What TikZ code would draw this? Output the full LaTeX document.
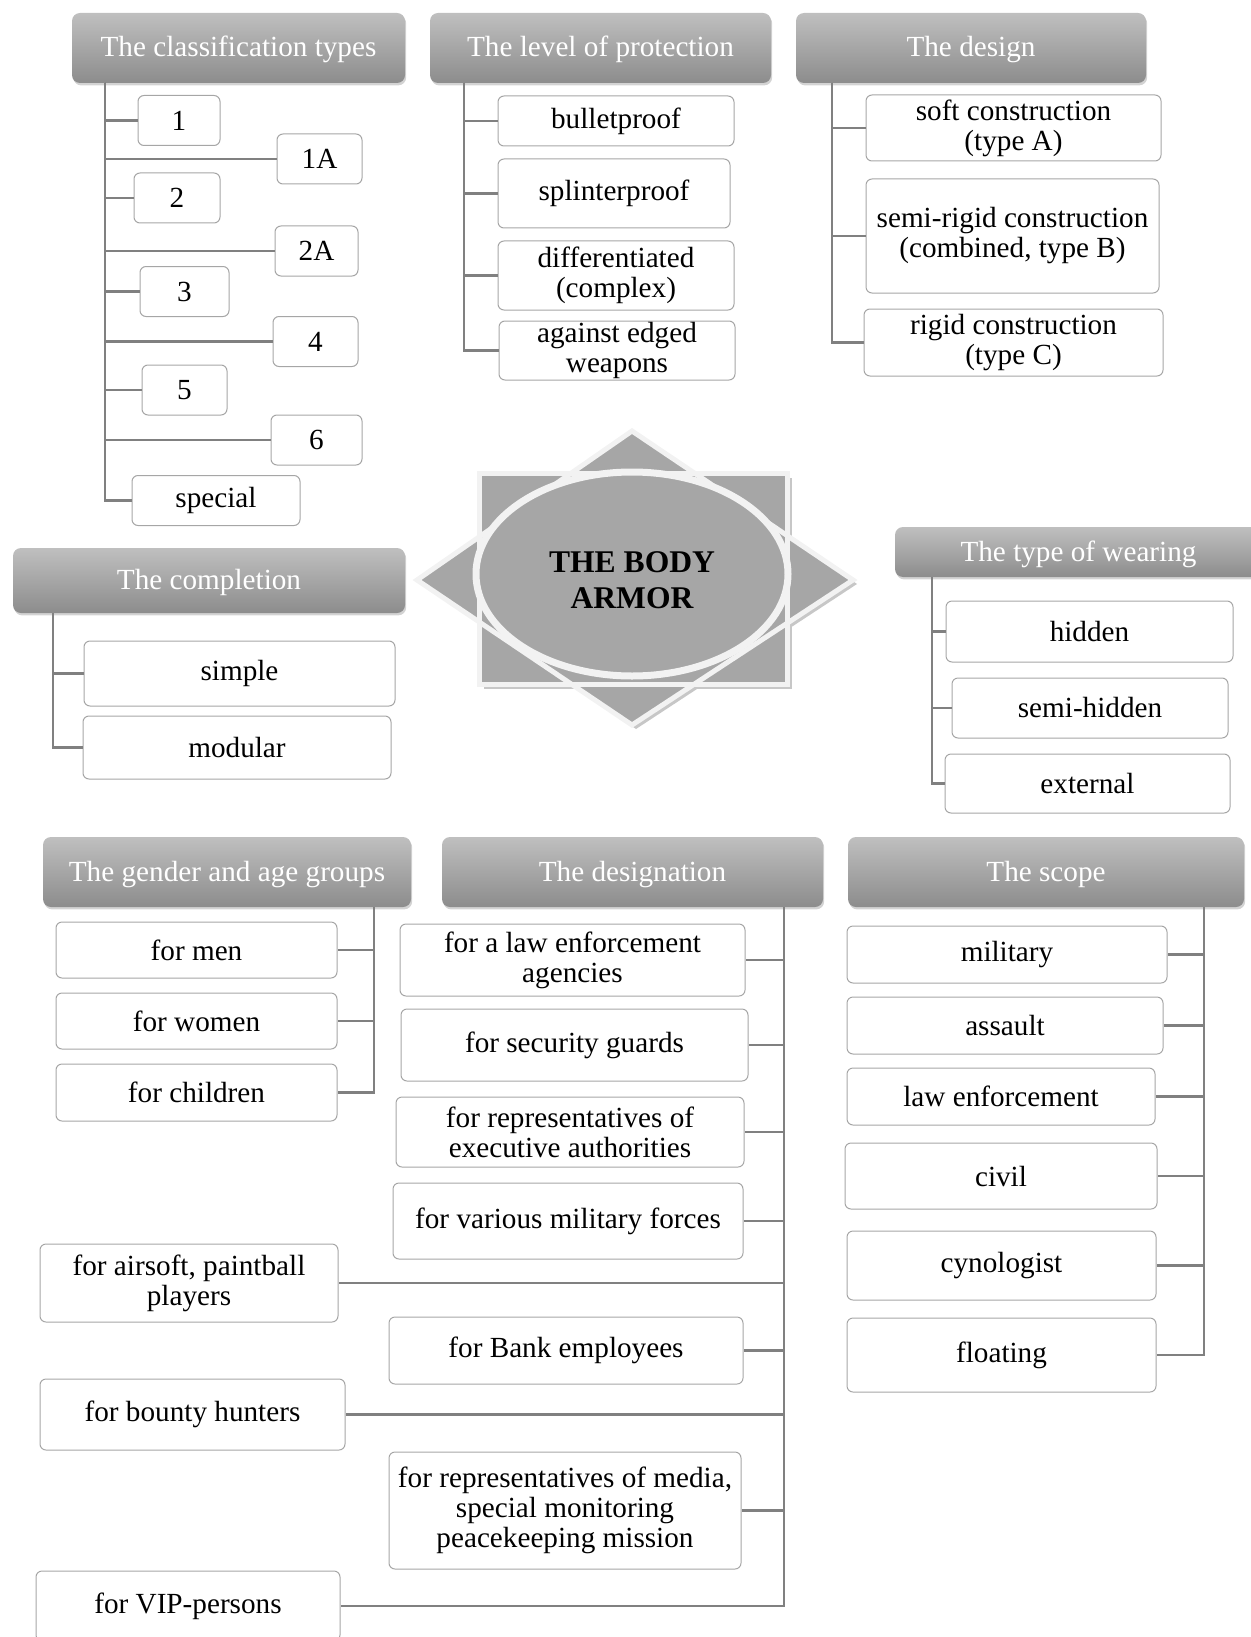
\documentclass[tikz,border=0pt]{standalone}
\usepackage{fontspec}
\setmainfont{Liberation Serif}
\usetikzlibrary{positioning,shapes.geometric,shadows}

\tikzset{
  hdr/.style={rounded corners=4pt, top color=black!25, bottom color=black!45,
    text=white, inner sep=0pt, font=\fontsize{14.6pt}{15pt}\selectfont,
    text height=10pt, text depth=1pt,
    drop shadow={opacity=0.35, shadow xshift=0.6pt, shadow yshift=-1.2pt}},
  leaf/.style={draw=black!35, line width=0.5pt, fill=white, rounded corners=3pt,
    align=center, inner sep=0pt, font=\fontsize{14.6pt}{15pt}\selectfont},
  sz/.style 2 args={minimum width=#1*0.5pt, minimum height=#2*0.5pt},
  link/.style={draw=black!50, line width=1.3pt},
  starpart/.style={fill=black!35},
  starline/.style={draw=black!5, line width=2.5pt},
  hub/.style={ellipse, fill=black!35, draw=black!5, line width=3.5pt,
    inner sep=0pt, font=\fontsize{15.8pt}{18pt}\selectfont\bfseries,
    drop shadow={opacity=0.3, shadow xshift=1pt, shadow yshift=-1pt}}
}

\begin{document}
\begin{tikzpicture}[x=0.5pt, y=-0.5pt]
  \useasboundingbox (0,0) rectangle (1250,1637);

  % star behind the hub
  \begin{scope}[shift={(4,4)}]
    \fill[black!22] (479.5,473.5) rectangle (787.5,684.5);
    \fill[black!22] (632,431) -- (853,580) -- (632,725) -- (417,580) -- cycle;
  \end{scope}
  \fill[starpart] (479.5,473.5) rectangle (787.5,684.5);
  \fill[starpart] (632,431) -- (853,580) -- (632,725) -- (417,580) -- cycle;
  \draw[starline] (479.5,473.5) rectangle (787.5,684.5);
  \draw[starline] (632,431) -- (853,580) -- (632,725) -- (417,580) -- cycle;

  \node[hub, sz={312}{204}] (hub) at (632,574)
    {\raisebox{-8pt}[0pt][0pt]{\begin{tabular}{@{}c@{}}THE BODY\\ARMOR\end{tabular}}};

  % headers
  \node[hdr, sz={333}{70}] (ct) at (238.5,48) {The classification types};
  \node[hdr, sz={341}{70}] (lp) at (600.5,48) {The level of protection};
  \node[hdr, sz={350}{70}] (ds) at (971,48) {The design};
  \node[hdr, sz={392}{65}] (cp) at (209,580.5) {The completion};
  \node[hdr, sz={367}{50}] (tw) at (1078.5,552) {The type of wearing};
  \node[hdr, sz={368}{70}] (ga) at (227,872) {The gender and age groups};
  \node[hdr, sz={381}{70}] (dg) at (632.5,872) {The designation};
  \node[hdr, sz={396}{70}] (sc) at (1046,872) {The scope};

  % trunk tops
  \coordinate (ct-t) at (105,83);
  \coordinate (lp-t) at (464,83);
  \coordinate (ds-t) at (832,83);
  \coordinate (cp-t) at (53,613);
  \coordinate (tw-t) at (932,577);
  \coordinate (ga-t) at (374,907);
  \coordinate (dg-t) at (784,907);
  \coordinate (sc-t) at (1204,907);

  % classification types
  \node[leaf, sz={82}{50}] (c1) at (179,120.5) {1};
  \node[leaf, sz={85}{50}] (c1a) at (319.5,159) {1A};
  \node[leaf, sz={86}{50}] (c2) at (177,198) {2};
  \node[leaf, sz={83}{50}] (c2a) at (316.5,251) {2A};
  \node[leaf, sz={89}{50}] (c3) at (184.5,291.5) {3};
  \node[leaf, sz={85}{50}] (c4) at (315.5,341.5) {4};
  \node[leaf, sz={85}{50}] (c5) at (184.5,390) {5};
  \node[leaf, sz={91}{50}] (c6) at (316.5,440) {6};
  \node[leaf, sz={168}{50}] (csp) at (216,500.5) {special};

  % level of protection
  \node[leaf, sz={236}{50}] (l1) at (616,121) {bulletproof};
  \node[leaf, sz={232}{69}] (l2) at (614,193.5) {splinterproof};
  \node[leaf, sz={236}{69}] (l3) at (616,275.5) {differentiated\\(complex)};
  \node[leaf, sz={236}{59}] (l4) at (617,350.5) {against edged\\weapons};

  % design
  \node[leaf, sz={295}{66}] (d1) at (1013.5,128) {soft construction\\(type A)};
  \node[leaf, sz={293}{114}] (d2) at (1012.5,236) {semi-rigid construction\\(combined, type B)};
  \node[leaf, sz={299}{67}] (d3) at (1013.5,342.5) {rigid construction\\(type C)};

  % completion
  \node[leaf, sz={311}{65}] (m1) at (239.5,673.5) {simple};
  \node[leaf, sz={308}{63}] (m2) at (237,747.5) {modular};

  % type of wearing
  \node[leaf, sz={287}{61}] (w1) at (1089.5,631.5) {hidden};
  \node[leaf, sz={276}{60}] (w2) at (1090,708) {semi-hidden};
  \node[leaf, sz={285}{59}] (w3) at (1087.5,783.5) {external};

  % gender and age groups
  \node[leaf, sz={281}{56}] (g1) at (196.5,950) {for men};
  \node[leaf, sz={281}{56}] (g2) at (196.5,1021) {for women};
  \node[leaf, sz={281}{57}] (g3) at (196.5,1092.5) {for children};

  % designation
  \node[leaf, sz={345}{72}] (n1) at (572.5,960) {for a law enforcement\\agencies};
  \node[leaf, sz={347}{72}] (n2) at (574.5,1045) {for security guards};
  \node[leaf, sz={348}{70}] (n3) at (570,1132) {for representatives of\\executive authorities};
  \node[leaf, sz={350}{76}] (n4) at (568,1221) {for various military forces};
  \node[leaf, sz={298}{78}] (n5) at (189,1283) {for airsoft, paintball\\players};
  \node[leaf, sz={354}{67}] (n6) at (566,1350.5) {for Bank employees};
  \node[leaf, sz={305}{71}] (n7) at (192.5,1414.5) {for bounty hunters};
  \node[leaf, sz={352}{117}] (n8) at (565,1510.5) {for representatives of media,\\special monitoring\\peacekeeping mission};
  \node[leaf, sz={304}{70}] (n9) at (188,1606) {for VIP-persons};

  % scope
  \node[leaf, sz={320}{57}] (s1) at (1007,954.5) {military};
  \node[leaf, sz={316}{57}] (s2) at (1005,1025.5) {assault};
  \node[leaf, sz={308}{57}] (s3) at (1001,1096.5) {law enforcement};
  \node[leaf, sz={312}{66}] (s4) at (1001,1176) {civil};
  \node[leaf, sz={309}{69}] (s5) at (1001.5,1265.5) {cynologist};
  \node[leaf, sz={309}{74}] (s6) at (1001.5,1355) {floating};

  % connectors
  \foreach \n in {c1,c1a,c2,c2a,c3,c4,c5,c6,csp}
    \draw[link] (ct-t) |- (\n.west);
  \foreach \n in {l1,l2,l3,l4}
    \draw[link] (lp-t) |- (\n.west);
  \foreach \n in {d1,d2,d3}
    \draw[link] (ds-t) |- (\n.west);
  \foreach \n in {m1,m2}
    \draw[link] (cp-t) |- (\n.west);
  \foreach \n in {w1,w2,w3}
    \draw[link] (tw-t) |- (\n.west);
  \foreach \n in {g1,g2,g3}
    \draw[link] (ga-t) |- (\n.east);
  \foreach \n in {n1,n2,n3,n4,n5,n6,n7,n8,n9}
    \draw[link] (dg-t) |- (\n.east);
  \foreach \n in {s1,s2,s3,s4,s5,s6}
    \draw[link] (sc-t) |- (\n.east);

\end{tikzpicture}
\end{document}
